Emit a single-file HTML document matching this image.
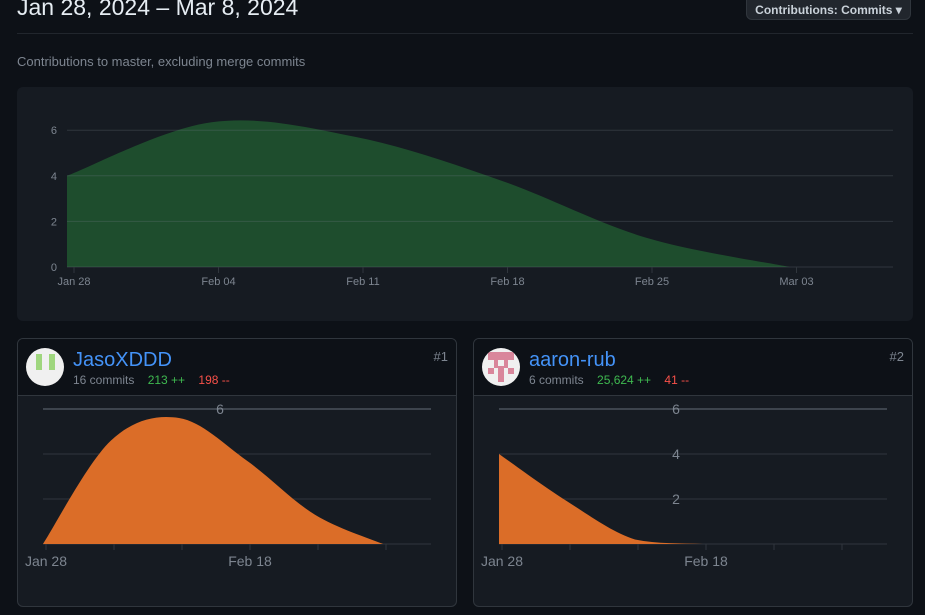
<!DOCTYPE html>
<html><head><meta charset="utf-8"><style>
body{margin:0;background:#0d1117;width:925px;height:615px;overflow:hidden;font-family:"Liberation Sans",sans-serif;position:relative}
.abs{position:absolute}
.card{position:absolute;border:1px solid #30363d;border-radius:6px;background:#161b22;overflow:hidden}
.hdr{position:absolute;left:0;top:0;right:0;height:56px;background:#0d1117;border-bottom:1px solid #30363d}
.av{position:absolute;left:8px;top:9px;width:38px;height:38px;border-radius:50%;background:#f0f0f0;overflow:hidden}
.name{position:absolute;left:55px;top:10px;font-size:20px;color:#4493f8}
.stats{position:absolute;left:55px;top:34px;font-size:12px;color:#7d8590;white-space:pre}
.rank{position:absolute;right:8px;top:10px;font-size:13px;color:#7d8590}
</style></head><body>
<div class="abs" style="left:17px;top:-6px;font-size:23px;color:#e6edf3">Jan 28, 2024 – Mar 8, 2024</div>
<div class="abs" style="left:746px;top:-6px;width:165px;height:26px;border:1px solid #30363d;border-radius:6px;background:#21262d;color:#c9d1d9;font-size:12px;font-weight:bold;text-align:center;line-height:26px;box-sizing:border-box;padding-top:2px">Contributions: Commits ▾</div>
<div class="abs" style="left:17px;top:33px;width:896px;height:1px;background:#21262d"></div>
<div class="abs" style="left:17px;top:54px;font-size:13px;color:#7d8590">Contributions to master, excluding merge commits</div>
<div class="abs" style="left:17px;top:87px;width:896px;height:234px;background:#161b22;border-radius:6px"></div>
<svg class="abs" style="left:0;top:0" width="925" height="615" id="svg"></svg>

<div class="card" style="left:17px;top:338px;width:438px;height:267px">
 <div class="hdr">
  <div class="av"><div style="position:absolute;left:10px;top:6px;width:6px;height:16px;background:#9fd67e"></div><div style="position:absolute;left:23px;top:6px;width:6px;height:16px;background:#9fd67e"></div></div>
  <div class="name">JasoXDDD</div>
  <div class="stats">16 commits    <span style="color:#3fb950">213 ++</span>    <span style="color:#f85149">198 --</span></div>
  <div class="rank">#1</div>
 </div>
</div>
<div class="card" style="left:473px;top:338px;width:438px;height:267px">
 <div class="hdr">
  <div class="av"><svg width="38" height="38"><g fill="#d9869b"><rect x="6" y="4" width="26" height="8"/><rect x="12" y="12" width="14" height="8"/><rect x="16" y="20" width="6" height="14"/><rect x="6" y="20" width="6" height="6"/><rect x="26" y="20" width="6" height="6"/></g><rect x="16" y="12" width="6" height="6" fill="#f0f0f0"/></svg></div>
  <div class="name">aaron-rub</div>
  <div class="stats">6 commits    <span style="color:#3fb950">25,624 ++</span>    <span style="color:#f85149">41 --</span></div>
  <div class="rank">#2</div>
 </div>
</div>
<svg class="abs" style="left:0;top:0" width="925" height="615" id="svg2"></svg>
<script>
const mainWeeks = ["Jan 28","Feb 04","Feb 11","Feb 18","Feb 25","Mar 03"];
const mainValues = [4, 6.35, 5.7, 3.8, 1.3, 0];
const mainYTicks = [0, 2, 4, 6];
const c1Values = [0, 4.6, 5.6, 3.7, 1.3, 0];
const c2Values = [4, 1.9, 0.2, 0, 0, 0];
const cardXLabels = ["Jan 28", "", "", "Feb 18", "", ""];
const card1YLabels = ["", "", "", "6"];
const card2YLabels = ["", "2", "4", "6"];
const cardYTicks = [0, 2, 4, 6];
const NS = "http://www.w3.org/2000/svg";
function mk(parent, tag, attrs){const e=document.createElementNS(NS,tag);for(const k in attrs)e.setAttribute(k,attrs[k]);parent.appendChild(e);return e;}
function spline(pts, yb){
  let d="M"+pts[0][0]+","+pts[0][1];
  for(let i=0;i<pts.length-1;i++){
    const p0=pts[Math.max(0,i-1)],p1=pts[i],p2=pts[i+1],p3=pts[Math.min(pts.length-1,i+2)];
    const c1x=p1[0]+(p2[0]-p0[0])/6,c1y=Math.min(yb,p1[1]+(p2[1]-p0[1])/6);
    const c2x=p2[0]-(p3[0]-p1[0])/6,c2y=Math.min(yb,p2[1]-(p3[1]-p1[1])/6);
    d+=" C"+c1x+","+c1y+" "+c2x+","+c2y+" "+p2[0]+","+p2[1];
  }
  return d;
}
const svg=document.getElementById("svg");
const mx=i=>67+144.5*i, my=v=>267-22.8*v;
const mpts=mainValues.map((v,i)=>[mx(i),my(v)]);
let area=mk(svg,"path",{d:spline(mpts,267)+" L"+mx(mainValues.length-1)+",267 L67,267 Z",fill:"#1e4d2d"});


mainYTicks.forEach(t=>{
  const g=mk(svg,"line",{x1:67,x2:893,y1:my(t),y2:my(t),stroke:"rgba(110,118,129,0.3)","stroke-width":1});
  
  
  const tx=mk(svg,"text",{x:57,y:my(t)+4,"text-anchor":"end","font-size":11,fill:"#7d8590","font-family":"Liberation Sans"});
  tx.textContent=t;
  
  
});
mainWeeks.forEach((w,i)=>{
  const x=74+144.5*i;
  const tk=mk(svg,"line",{x1:x,x2:x,y1:267,y2:273,stroke:"#30363d"});
  
  
  const tx=mk(svg,"text",{x:x,y:285,"text-anchor":"middle","font-size":11,fill:"#7d8590","font-family":"Liberation Sans"});
  tx.textContent=w;
  
  
});
const svg2=document.getElementById("svg2");
function card(x0, vals, ylabels, name){
  const cx=i=>x0+68*i, cy=v=>544-22.5*v;
  cardYTicks.forEach((t,k)=>{
    const g=mk(svg2,"line",{x1:x0,x2:x0+388,y1:cy(t),y2:cy(t),stroke:t==6?"#3d444d":"#30363d","stroke-width":t==6?2:1});
    
    
  });
  const pts=vals.map((v,i)=>[cx(i),cy(v)]);
  const a=mk(svg2,"path",{d:spline(pts,544)+" L"+cx(vals.length-1)+",544 L"+x0+",544 Z",fill:"#db6d28"});
  
  
  cardYTicks.forEach((t,k)=>{
    if(ylabels[k]){
      const tx=mk(svg2,"text",{x:x0+177,y:cy(t)+5,"text-anchor":"middle","font-size":14,fill:"#7d8590","font-family":"Liberation Sans"});
      tx.textContent=ylabels[k];
      
      
    }
  });
  cardXLabels.forEach((l,i)=>{
    const x=x0+3+68*i;
    const tk=mk(svg2,"line",{x1:x,x2:x,y1:544,y2:550,stroke:"#30363d"});
    
    
    if(l){
      const tx=mk(svg2,"text",{x:x,y:566,"text-anchor":"middle","font-size":14,fill:"#7d8590","font-family":"Liberation Sans"});
      tx.textContent=l;
      
      
    }
  });
}
card(43,c1Values,card1YLabels,"jasoxddd");
card(499,c2Values,card2YLabels,"aaron-rub");
</script>
</body></html>
